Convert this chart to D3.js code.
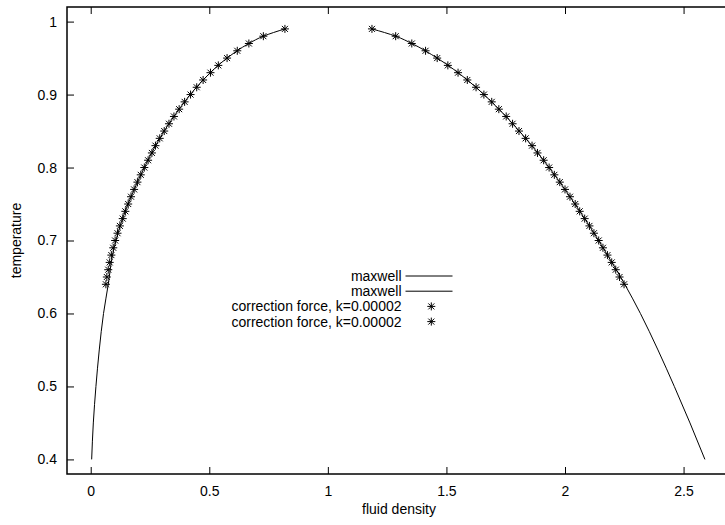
<!DOCTYPE html>
<html>
<head>
    <title>Coexistence curve</title>
    <script src="https://cdnjs.cloudflare.com/ajax/libs/d3/7.8.5/d3.min.js"></script>
    <style>
        body {
            margin: 0;
            background: white;
            font-family: "Liberation Sans", Arial, Helvetica, sans-serif;
        }
        .tick-label {
            font-size: 14px;
            fill: #000;
        }
        .axis-title {
            font-size: 14px;
            fill: #000;
        }
        .legend-text {
            font-size: 14px;
            fill: #000;
        }
    </style>
</head>
<body>
    <div id="chart"></div>
    <script>
        // temperatures where the correction force points were taken
        const starTemps = [0.64, 0.65, 0.66, 0.67, 0.68, 0.69, 0.70, 0.71, 0.72, 0.73, 0.74, 0.75,
            0.76, 0.77, 0.78, 0.79, 0.80, 0.81, 0.82, 0.83, 0.84, 0.85, 0.86, 0.87,
            0.88, 0.89, 0.90, 0.91, 0.92, 0.93, 0.94, 0.95, 0.96, 0.97, 0.98, 0.99];
        const starGas = [0.064, 0.068, 0.074, 0.080, 0.087, 0.095, 0.103, 0.113, 0.123, 0.135, 0.146, 0.158,
            0.170, 0.183, 0.197, 0.211, 0.226, 0.242, 0.258, 0.273, 0.291, 0.310, 0.330, 0.351,
            0.373, 0.396, 0.421, 0.447, 0.474, 0.505, 0.538, 0.575, 0.618, 0.667, 0.728, 0.819];
        const starLiquid = [2.249, 2.230, 2.214, 2.197, 2.179, 2.160, 2.142, 2.122, 2.103, 2.083, 2.062, 2.043,
            2.021, 2.000, 1.978, 1.955, 1.933, 1.910, 1.884, 1.861, 1.834, 1.806, 1.779, 1.752,
            1.721, 1.691, 1.658, 1.625, 1.588, 1.549, 1.506, 1.461, 1.412, 1.354, 1.286, 1.186];

        // maxwell construction curves
        const maxwellTemps = [0.40, 0.45, 0.50, 0.55, 0.60, 0.64, 0.68, 0.72, 0.76, 0.80, 0.84, 0.88,
            0.92, 0.95, 0.97, 0.98, 0.99];
        const maxwellGas = [0.004, 0.011, 0.022, 0.036, 0.054, 0.074, 0.092, 0.124, 0.170, 0.226, 0.291, 0.373,
            0.474, 0.575, 0.667, 0.728, 0.819];
        const maxwellLiquid = [2.590, 2.527, 2.461, 2.392, 2.318, 2.252, 2.179, 2.103, 2.021, 1.933, 1.834, 1.721,
            1.588, 1.461, 1.354, 1.286, 1.186];

        const xTicks = [0, 0.5, 1, 1.5, 2, 2.5];
        const yTicks = [0.4, 0.5, 0.6, 0.7, 0.8, 0.9, 1];

        const legendLabels = ["maxwell", "maxwell", "correction force, k=0.00002", "correction force, k=0.00002"];

        const width = 725, height = 525;
        const plot = { left: 67, right: 731, top: 7, bottom: 474 };

        const svg = d3.select("#chart")
            .append("svg")
            .attr("width", width)
            .attr("height", height);

        const x = d3.scaleLinear().domain([-0.1, 2.7]).range([plot.left, plot.right]);
        const y = d3.scaleLinear().domain([0.38, 1.02]).range([plot.bottom, plot.top]);

        // frame
        svg.append("rect")
            .attr("x", plot.left)
            .attr("y", plot.top)
            .attr("width", plot.right - plot.left)
            .attr("height", plot.bottom - plot.top)
            .attr("fill", "none")
            .attr("stroke", "#000")
            .attr("stroke-width", 1.5);

        // axes with inward ticks (gnuplot style)
        svg.append("g")
            .attr("transform", `translate(0,${plot.bottom})`)
            .call(d3.axisBottom(x).tickValues(xTicks).tickSize(-7).tickPadding(12).tickFormat(d3.format("")))
            .call(g => g.select(".domain").remove())
            .call(g => g.selectAll("text").attr("class", "tick-label").attr("font-family", null).attr("font-size", null));

        svg.append("g")
            .attr("transform", `translate(0,${plot.top})`)
            .call(d3.axisTop(x).tickValues(xTicks).tickSize(-7).tickFormat(""))
            .call(g => g.select(".domain").remove());

        svg.append("g")
            .attr("transform", `translate(${plot.left},0)`)
            .call(d3.axisLeft(y).tickValues(yTicks).tickSize(-7).tickPadding(10).tickFormat(d3.format("")))
            .call(g => g.select(".domain").remove())
            .call(g => g.selectAll("text").attr("class", "tick-label").attr("font-family", null).attr("font-size", null));

        svg.selectAll(".tick line").attr("stroke", "#000").attr("stroke-width", 1);

        // axis titles
        svg.append("text")
            .attr("class", "axis-title")
            .attr("x", (plot.left + plot.right) / 2)
            .attr("y", 514)
            .attr("text-anchor", "middle")
            .text("fluid density");

        svg.append("text")
            .attr("class", "axis-title")
            .attr("transform", `translate(21,${(plot.top + plot.bottom) / 2}) rotate(-90)`)
            .attr("text-anchor", "middle")
            .text("temperature");

        const line = d3.line()
            .x(d => x(d[0]))
            .y(d => y(d[1]))
            .curve(d3.curveMonotoneY);

        [maxwellGas, maxwellLiquid].forEach(arr => {
            svg.append("path")
                .datum(arr.map((v, i) => [v, maxwellTemps[i]]))
                .attr("fill", "none")
                .attr("stroke", "#000")
                .attr("stroke-width", 1)
                .attr("d", line);
        });

        // asterisk symbol, gnuplot point type 3
        const star = "M-4,0H4M0,-4V4M-3,-3L3,3M-3,3L3,-3";

        [starGas, starLiquid].forEach(arr => {
            svg.append("g")
                .selectAll("path")
                .data(arr.map((v, i) => [v, starTemps[i]]))
                .join("path")
                .attr("transform", d => `translate(${x(d[0])},${y(d[1])})`)
                .attr("d", star)
                .attr("fill", "none")
                .attr("stroke", "#000")
                .attr("stroke-width", 1);
        });

        // legend
        const legend = svg.append("g");
        legendLabels.forEach((label, i) => {
            const ly = 276 + i * 15.2;
            legend.append("text")
                .attr("class", "legend-text")
                .attr("x", 401.5)
                .attr("y", ly + 5)
                .attr("text-anchor", "end")
                .text(label);
            if (i < 2) {
                legend.append("line")
                    .attr("x1", 405.5)
                    .attr("x2", 452.5)
                    .attr("y1", ly)
                    .attr("y2", ly)
                    .attr("stroke", "#000")
                    .attr("stroke-width", 1);
            } else {
                legend.append("path")
                    .attr("transform", `translate(431.3,${ly})`)
                    .attr("d", star)
                    .attr("fill", "none")
                    .attr("stroke", "#000")
                    .attr("stroke-width", 1);
            }
        });
    </script>
</body>
</html>
